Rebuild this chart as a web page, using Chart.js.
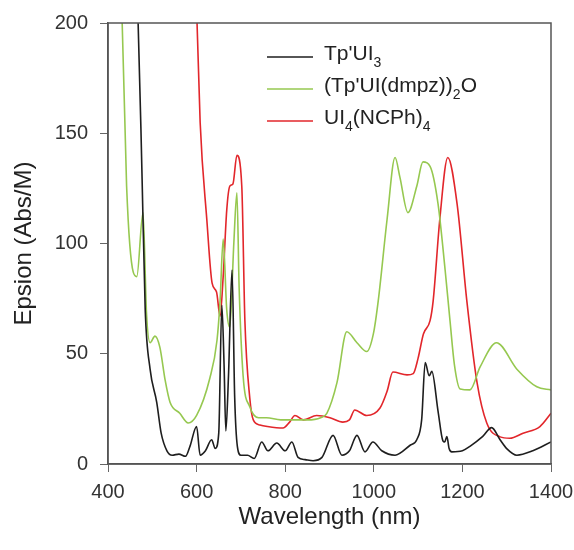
<!DOCTYPE html>
<html>
<head>
<meta charset="utf-8">
<script src="https://cdn.jsdelivr.net/npm/chart.js@4.4.0/dist/chart.umd.min.js"></script>
<style>
html, body { margin: 0; padding: 0; background: #fff; }
</style>
</head>
<body>
<canvas id="myChart" width="574" height="550"></canvas>
<script>
// Tp'UI3 (black)
var blackNm = [440, 468, 477, 484, 495, 510, 520, 533, 545, 560, 575, 585, 600, 608, 620, 634, 642, 650, 657, 662, 666, 672, 680, 686, 692, 700, 715, 730, 747, 761, 781, 800, 815, 829, 845, 863, 883, 908, 928, 945, 962, 980, 998, 1018, 1048, 1082, 1097, 1108, 1116, 1125, 1131, 1145, 1156, 1160, 1165, 1170, 1176, 1200, 1217, 1246, 1266, 1285, 1300, 1323, 1359, 1400];
var blackEps = [260, 200, 129, 70, 43, 28, 14, 6, 4, 4.5, 3.5, 8, 17, 4, 6, 11, 7, 14, 72, 45, 15, 40, 88, 30, 8, 4, 4, 2.5, 10, 6, 9.5, 6, 10, 3, 2, 1.5, 3, 13, 4, 6, 13, 5.5, 10, 6, 4, 8.5, 11, 20, 46, 40, 42, 24, 10.5, 10, 12.5, 7, 5.5, 6, 8, 12.5, 16.5, 11, 7, 4, 6, 10];

// (Tp'UI(dmpz))2O (green)
var greenNm = [415, 432, 442, 457, 465, 479, 487, 495, 506, 517, 529, 540, 562, 581, 600, 630, 646, 653, 660, 668, 675, 684, 691, 696, 705, 720, 740, 758, 790, 820, 850, 880, 894, 917, 939, 962, 984, 999, 1010, 1030, 1048, 1059, 1077, 1097, 1111, 1127, 1145, 1161, 1172, 1182, 1195, 1217, 1240, 1277, 1323, 1368, 1400];
var greenEps = [240, 200, 126, 87, 85, 114, 68, 55, 58, 53, 38, 28, 23, 18.6, 22, 39, 56, 74, 102, 70, 62, 100, 123, 80, 40, 26, 21, 21, 20, 20, 20, 21, 23, 37, 60, 55, 51, 59, 74, 111, 139, 130, 114, 126, 137, 135, 118, 88, 65, 45, 34, 33.6, 44, 55, 43, 35, 33.6];

// UI4(NCPh)4 (red)
var redNm = [592, 601, 608, 623, 635, 645, 653, 660, 668, 675, 682, 691, 702, 709, 720, 728, 743, 760, 795, 810, 822, 841, 871, 901, 930, 945, 957, 984, 1014, 1030, 1043, 1075, 1089, 1100, 1112, 1127, 1134, 1149, 1167, 1188, 1210, 1233, 1255, 1285, 1307, 1337, 1375, 1400];
var redEps = [230, 200, 155, 111, 82, 78, 67, 85, 115, 126, 127, 140, 126, 65, 30, 20, 17.7, 17, 16.3, 19, 22, 20, 22, 21, 19, 20, 24.5, 22, 25.4, 33, 41.7, 40.4, 41, 48, 59, 65, 74, 111, 139, 118, 74, 37, 18.6, 12.3, 11.7, 14, 17, 23];

var seriesLabels = ["Tp'UI3", "(Tp'UI(dmpz))2O", "UI4(NCPh)4"];
var seriesColors = ['#1e1e1e', 'rgb(150, 200, 80)', '#e2262b'];
// legend text split into [text, isSubscript]
var legendParts = [
    [["Tp'UI", false], ['3', true]],
    [["(Tp'UI(dmpz))", false], ['2', true], ['O', false]],
    [['UI', false], ['4', true], ['(NCPh)', false], ['4', true]]
];

var xTicks = [400, 600, 800, 1000, 1200, 1400];
var yTicks = [0, 50, 100, 150, 200];

function toPoints(xs, ys) {
    return xs.map(function (x, i) { return { x: x, y: ys[i] }; });
}

var FONT = "'Liberation Sans', Arial, sans-serif";

var legendAndFrame = {
    id: 'legendAndFrame',
    afterDraw: function (chart) {
        var ctx = chart.ctx;
        var a = chart.chartArea;
        ctx.save();
        ctx.strokeStyle = '#555';
        ctx.lineWidth = 1.5;
        ctx.strokeRect(a.left, a.top, a.right - a.left, a.bottom - a.top);

        var rows = [57, 89, 121];
        legendParts.forEach(function (parts, i) {
            var y = rows[i];
            ctx.strokeStyle = seriesColors[i];
            ctx.lineWidth = 1.6;
            ctx.beginPath();
            ctx.moveTo(267, y);
            ctx.lineTo(313, y);
            ctx.stroke();
            var x = 324;
            ctx.fillStyle = '#222';
            ctx.textBaseline = 'alphabetic';
            parts.forEach(function (p) {
                ctx.font = (p[1] ? '14px ' : '21px ') + FONT;
                ctx.fillText(p[0], x, p[1] ? y + 10 : y + 3);
                x += ctx.measureText(p[0]).width;
            });
        });
        ctx.restore();
    }
};

var ctx = document.getElementById('myChart').getContext('2d');

var chart = new Chart(ctx, {
    type: 'line',
    data: {
        datasets: [
            { label: seriesLabels[0], data: toPoints(blackNm, blackEps), borderColor: seriesColors[0] },
            { label: seriesLabels[1], data: toPoints(greenNm, greenEps), borderColor: seriesColors[1] },
            { label: seriesLabels[2], data: toPoints(redNm, redEps), borderColor: seriesColors[2] }
        ]
    },
    options: {
        responsive: false,
        animation: false,
        layout: { padding: { top: 23, right: 23, left: 0, bottom: 0 } },
        elements: {
            point: { radius: 0 },
            line: { borderWidth: 1.6, cubicInterpolationMode: 'monotone', fill: false }
        },
        plugins: {
            legend: { display: false },
            tooltip: { enabled: false }
        },
        scales: {
            x: {
                type: 'linear',
                min: 400,
                max: 1400,
                afterFit: function (s) { s.height = 86; s.paddingLeft = 0; s.paddingRight = 0; },
                afterBuildTicks: function (s) { s.ticks = xTicks.map(function (v) { return { value: v }; }); },
                grid: { drawOnChartArea: false, drawTicks: true, tickLength: 8, color: '#666', lineWidth: 1 },
                border: { display: true, color: '#555', width: 1.5 },
                ticks: {
                    color: '#333', font: { family: FONT, size: 20 }, padding: 8, maxRotation: 0,
                    callback: function (v) { return String(v); }
                },
                title: { display: true, text: 'Wavelength (nm)', color: '#222', font: { family: FONT, size: 24 }, padding: { top: 0, bottom: 18 } }
            },
            y: {
                min: 0,
                max: 200,
                afterFit: function (s) { s.width = 108; s.paddingTop = 0; s.paddingBottom = 0; },
                afterBuildTicks: function (s) { s.ticks = yTicks.map(function (v) { return { value: v }; }); },
                grid: { drawOnChartArea: false, drawTicks: true, tickLength: 8, color: '#666', lineWidth: 1 },
                border: { display: true, color: '#555', width: 1.5 },
                ticks: { color: '#333', font: { family: FONT, size: 20 }, padding: 12 },
                title: { display: true, text: 'Epsion (Abs/M)', color: '#222', font: { family: FONT, size: 24 }, padding: { top: 10, bottom: 0 } }
            }
        }
    },
    plugins: [legendAndFrame]
});
</script>
</body>
</html>
